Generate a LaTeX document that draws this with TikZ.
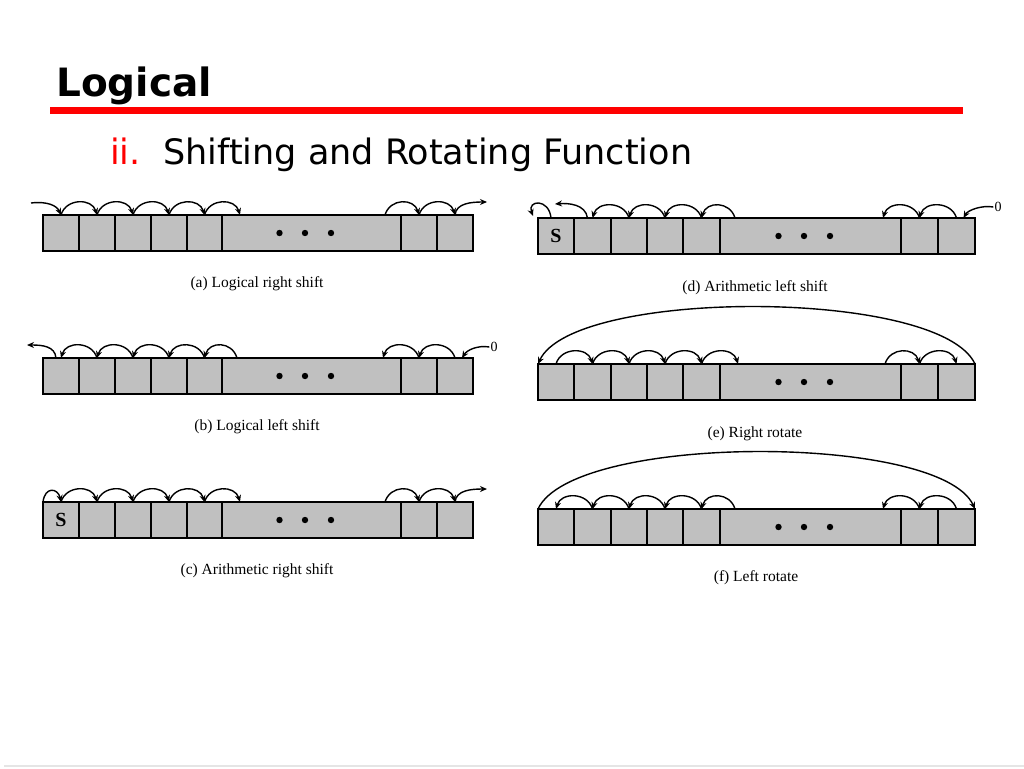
\documentclass[tikz,border=0pt]{standalone}
\usepackage{fontspec}
\setmainfont{Liberation Serif}
\newfontfamily\slidefont{DejaVu Sans}
\usetikzlibrary{arrows.meta}
\definecolor{cellgray}{RGB}{192,192,192}
\definecolor{slidered}{RGB}{255,0,0}
\newcommand\reg[3]{%
  \foreach \xa/\xb [count=\i] in #2{%
    \pgfmathsetmacro\ww{\xb-\xa}%
    \node[cell, minimum width=\ww pt] (#1\i) at ({(\xa+\xb)/2},{#3+18}) {};
  }%
  \foreach \dx in {-32,-6.5,19.5}{\fill ([xshift=\dx pt]#16.center) circle (3.2pt);}%
}
\newcommand\hopR[2]{\draw[hoparrow] (#1) .. controls +(5,-17) and +(-5,-17) .. (#2);}
\newcommand\hopL[2]{\draw[hoparrow] (#1) .. controls +(-5,-17) and +(5,-17) .. (#2);}
\def\Lx{43/79,79/115,115/151,151/187,187/222,222/401,401/437,437/473}
\def\Rx{538/574,574/611,611/647,647/683,683/720,720/901,901/938,938/975}
\begin{document}
\begin{tikzpicture}[x=1pt,y=-1pt,
  cell/.style={draw=black, line width=2.4pt, fill=cellgray, rectangle, minimum height=36pt, inner sep=0pt, outer sep=0pt},
  hoparrow/.style={draw=black, line width=1.4pt, -{Stealth[length=7pt,width=6pt]}},
  capt/.style={font=\fontsize{15.5}{17}\selectfont, inner sep=0pt},
  zerolab/.style={font=\fontsize{14}{16}\selectfont, inner sep=1pt},
  sbit/.style={font=\bfseries\fontsize{20}{20}\selectfont, inner sep=0pt}]
\useasboundingbox (0,0) rectangle (1024,768);
\fill[white] (0,0) rectangle (1024,768);
% header
\node[anchor=base west, inner sep=0pt, font=\slidefont\bfseries\fontsize{39}{44}\selectfont] (title) at (56,96) {Logical};
\fill[slidered] (50,107) rectangle (963,114);
\node[anchor=base west, inner sep=0pt, text=slidered, font=\slidefont\fontsize{35}{40}\selectfont] (num) at (110,164) {ii.};
\node[anchor=base west, inner sep=0pt, font=\slidefont\fontsize{35}{40}\selectfont] (sub) at (163,164) {Shifting and Rotating Function};
\draw[black!10, line width=1.2pt] (4,766) -- (1024,766);
% (a) logical right shift
\reg{a}{\Lx}{215}
\coordinate (ain) at (31,203);
\coordinate (aout) at (487,202);
\draw[hoparrow] (ain) .. controls (48,201) and (57,206) .. (a1.north);
\hopR{a1.north}{a2.north}
\hopR{a2.north}{a3.north}
\hopR{a3.north}{a4.north}
\hopR{a4.north}{a5.north}
\hopR{a5.north}{[xshift=18pt]a6.north west}
\hopR{[xshift=-16pt]a6.north east}{a7.north}
\hopR{a7.north}{a8.north}
\draw[hoparrow] (a8.north) .. controls +(1,-12) and (472,202) .. (aout);
\node[capt] (capa) at (257,284) {(a) Logical right shift};
% (b) logical left shift
\reg{b}{\Lx}{358}
\coordinate (bout) at (27,345);
\draw[hoparrow] ([xshift=-5pt]b1.north) .. controls +(-1,-12) and (42,345) .. (bout);
\hopL{b2.north}{b1.north}
\hopL{b3.north}{b2.north}
\hopL{b4.north}{b3.north}
\hopL{b5.north}{b4.north}
\hopL{[xshift=15pt]b6.north west}{b5.north}
\hopL{b7.north}{[xshift=-18pt]b6.north east}
\hopL{b8.north}{b7.north}
\node[zerolab] (bzero) at (494,347) {0};
\draw[hoparrow] (bzero.west) .. controls (478,345) and (467,350) .. ([xshift=7pt]b8.north);
\node[capt] (capb) at (257,427) {(b) Logical left shift};
% (c) arithmetic right shift
\reg{c}{\Lx}{502}
\node[sbit] (cs) at (c1) {S};
\coordinate (cout) at (487,489);
\draw[hoparrow] (c1.north west) .. controls +(2,-16) and +(-3,-14) .. (c1.north);
\hopR{c1.north}{c2.north}
\hopR{c2.north}{c3.north}
\hopR{c3.north}{c4.north}
\hopR{c4.north}{c5.north}
\hopR{c5.north}{[xshift=18pt]c6.north west}
\hopR{[xshift=-16pt]c6.north east}{c7.north}
\hopR{c7.north}{c8.north}
\draw[hoparrow] (c8.north) .. controls +(1,-12) and (472,489) .. (cout);
\node[capt] (capc) at (257,571) {(c) Arithmetic right shift};
% (d) arithmetic left shift
\reg{d}{\Rx}{218}
\node[sbit] (ds) at (d1) {S};
\coordinate (dloop) at (533,216);
\coordinate (dout) at (555,204);
\draw[hoparrow] ([xshift=-5pt]d1.north) .. controls +(-2,-20) and +(-6,-16) .. (dloop);
\draw[hoparrow] ([xshift=-5pt]d2.north) .. controls +(-2,-14) and (568,203) .. (dout);
\hopL{d3.north}{d2.north}
\hopL{d4.north}{d3.north}
\hopL{d5.north}{d4.north}
\hopL{[xshift=15pt]d6.north west}{d5.north}
\hopL{d7.north}{[xshift=-18pt]d6.north east}
\hopL{d8.north}{d7.north}
\node[zerolab] (dzero) at (998,207) {0};
\draw[hoparrow] (dzero.west) .. controls (982,205) and (968,210) .. ([xshift=7pt]d8.north);
\node[capt] (capd) at (755,288) {(d) Arithmetic left shift};
% (e) right rotate
\reg{e}{\Rx}{364}
\draw[hoparrow] (e8.north east) .. controls (940,288) and (573,288) .. (e1.north west);
\hopR{e1.north}{e2.north}
\hopR{e2.north}{e3.north}
\hopR{e3.north}{e4.north}
\hopR{e4.north}{e5.north}
\hopR{e5.north}{[xshift=18pt]e6.north west}
\hopR{[xshift=-16pt]e6.north east}{e7.north}
\hopR{e7.north}{e8.north}
\node[capt] (cape) at (755,434) {(e) Right rotate};
% (f) left rotate
\reg{f}{\Rx}{509}
\draw[hoparrow] (f1.north west) .. controls (573,433) and (940,433) .. (f8.north east);
\hopL{f2.north}{f1.north}
\hopL{f3.north}{f2.north}
\hopL{f4.north}{f3.north}
\hopL{f5.north}{f4.north}
\hopL{[xshift=15pt]f6.north west}{f5.north}
\hopL{f7.north}{[xshift=-18pt]f6.north east}
\hopL{f8.north}{f7.north}
\node[capt] (capf) at (756,578) {(f) Left rotate};
\end{tikzpicture}
\end{document}
